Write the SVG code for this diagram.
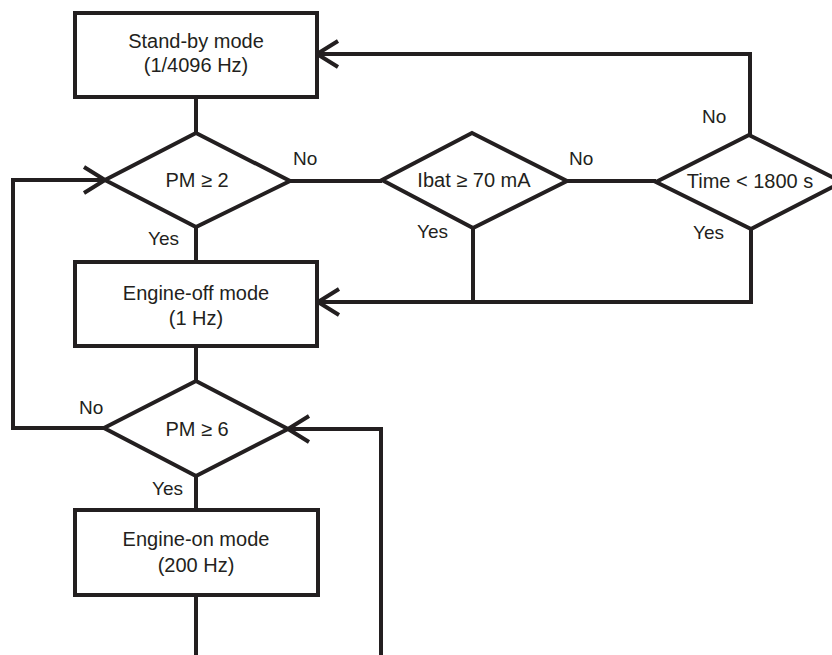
<svg xmlns="http://www.w3.org/2000/svg" width="832" height="655" viewBox="0 0 832 655">
<style>
.shape{fill:#fff;stroke:#231f20;stroke-width:4;stroke-linejoin:miter}
.conn{fill:none;stroke:#231f20;stroke-width:4;stroke-linejoin:miter}
.t{font-family:"Liberation Sans",Arial,sans-serif;font-size:20px;fill:#231f20;text-anchor:middle}
.l{font-family:"Liberation Sans",Arial,sans-serif;font-size:19px;fill:#231f20}
</style>
<defs>
<marker id="arr" markerUnits="userSpaceOnUse" viewBox="-24 -16 28 32" refX="0" refY="0" markerWidth="28" markerHeight="32" orient="auto" overflow="visible">
<path d="M-21,-13 L0,0 L-21,13" fill="none" stroke="#231f20" stroke-width="4"/>
</marker>
</defs>
<rect width="832" height="655" fill="#fff"/>
<g id="connectors">
<path class="conn" d="M196,97 V133"/>
<path class="conn" d="M290,181 H382"/>
<path class="conn" d="M567,181 H656"/>
<path class="conn" d="M750,135 V54 H317" marker-end="url(#arr)"/>
<path class="conn" d="M751,229 V302 H318" marker-end="url(#arr)"/>
<path class="conn" d="M473,228 V302"/>
<path class="conn" d="M196,227 V262"/>
<path class="conn" d="M196,346 V381"/>
<path class="conn" d="M104,428 H13 V180 H105" marker-end="url(#arr)"/>
<path class="conn" d="M196,476 V510"/>
<path class="conn" d="M196,595 V655"/>
<path class="conn" d="M381,655 V429 H288" marker-end="url(#arr)"/>
</g>
<g id="standby">
<rect class="shape" x="75" y="13" width="242" height="84"/>
<text class="t" x="196" y="48">Stand-by mode</text>
<text class="t" x="196" y="72">(1/4096 Hz)</text>
</g>
<g id="pm2">
<path class="shape" d="M196,133 L290,181 L196,227 L105,180 Z"/>
<text class="t" x="197" y="187">PM ≥ 2</text>
</g>
<g id="ibat">
<path class="shape" d="M472,133 L567,181 L473,228 L382,180 Z"/>
<text class="t" x="474" y="187">Ibat ≥ 70 mA</text>
</g>
<g id="time">
<path class="shape" d="M749,135 L842,182 L751,229 L656,182 Z"/>
<text class="t" x="750" y="188">Time &lt; 1800 s</text>
</g>
<g id="engineoff">
<rect class="shape" x="75" y="262" width="242" height="84"/>
<text class="t" x="196" y="300">Engine-off mode</text>
<text class="t" x="196" y="325">(1 Hz)</text>
</g>
<g id="pm6">
<path class="shape" d="M196,381 L288,429 L196,476 L104,428 Z"/>
<text class="t" x="197" y="436">PM ≥ 6</text>
</g>
<g id="engineon">
<rect class="shape" x="75" y="510" width="243" height="85"/>
<text class="t" x="196" y="546">Engine-on mode</text>
<text class="t" x="196" y="572">(200 Hz)</text>
</g>
<g id="labels">
<text class="l" x="293" y="165">No</text>
<text class="l" x="569" y="165">No</text>
<text class="l" x="702" y="123">No</text>
<text class="l" x="417" y="238">Yes</text>
<text class="l" x="693" y="239">Yes</text>
<text class="l" x="148" y="245">Yes</text>
<text class="l" x="79" y="414">No</text>
<text class="l" x="152" y="495">Yes</text>
</g>
</svg>
